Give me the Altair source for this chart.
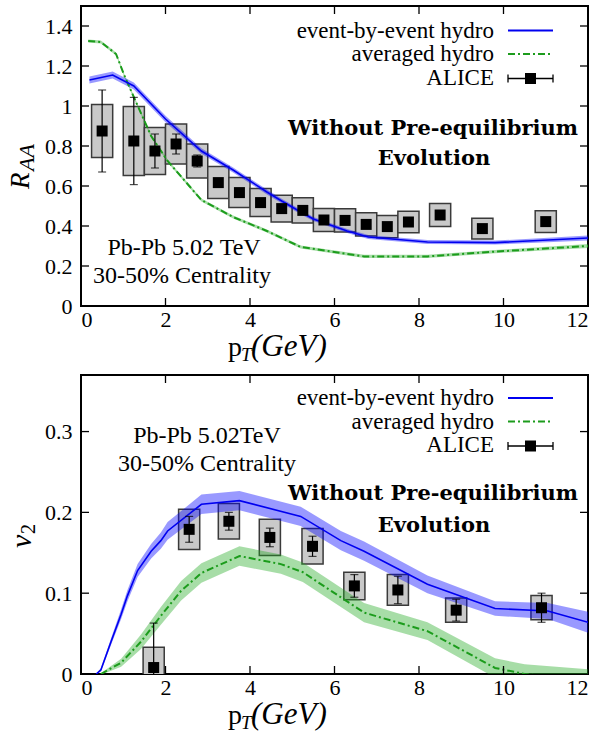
import altair as alt
import pandas as pd

# ---------------- data: R_AA panel ----------------
raa_ebe_x = [0.2, 0.75, 1.25, 2.0, 2.85, 3.6, 4.4, 4.75, 5.2, 5.5, 6.3, 6.8, 8.2, 9.8, 12.0]
raa_ebe_y = [1.13, 1.155, 1.10, 0.935, 0.775, 0.68, 0.57, 0.525, 0.47, 0.435, 0.375, 0.345, 0.32, 0.317, 0.34]
raa_ebe_e = [0.018, 0.018, 0.018, 0.016, 0.014, 0.013, 0.012, 0.011, 0.011, 0.010, 0.010, 0.010, 0.010, 0.010, 0.012]

raa_avg_x = [0.17, 0.47, 0.83, 1.04, 1.26, 1.66, 2.05, 2.85, 3.6, 4.4, 5.2, 6.7, 8.2, 9.8, 12.0]
raa_avg_y = [1.325, 1.32, 1.26, 1.145, 1.04, 0.85, 0.725, 0.53, 0.445, 0.375, 0.295, 0.248, 0.248, 0.272, 0.30]
raa_avg_e = [0.008, 0.008, 0.008, 0.008, 0.008, 0.008, 0.008, 0.008, 0.008, 0.008, 0.008, 0.008, 0.008, 0.008, 0.01]

raa_x = [0.5, 1.25, 1.75, 2.25, 2.75, 3.25, 3.75, 4.25, 4.75, 5.25, 5.75, 6.25, 6.75, 7.25, 7.75, 8.5, 9.5, 11.0]
raa_y = [0.875, 0.825, 0.775, 0.81, 0.725, 0.617, 0.567, 0.517, 0.487, 0.478, 0.43, 0.428, 0.408, 0.397, 0.42, 0.455, 0.387, 0.422]
raa_stat = [0.205, 0.218, 0.085, 0.05, 0.03, 0.015, 0.012, 0.01, 0.01, 0.01, 0.01, 0.01, 0.01, 0.01, 0.01, 0.012, 0.012, 0.015]
raa_sys = [0.133, 0.173, 0.117, 0.10, 0.085, 0.08, 0.075, 0.07, 0.067, 0.063, 0.058, 0.058, 0.058, 0.056, 0.054, 0.058, 0.052, 0.054]

# ---------------- data: v2 panel ----------------
v2_ebe_x = [0.36, 0.47, 0.71, 0.95, 1.1, 1.34, 1.66, 1.89, 2.05, 2.85, 3.75, 5.2, 6.15, 6.7, 8.2, 9.8, 11.05, 12.0]
v2_ebe_y = [0.0, 0.005, 0.04, 0.074, 0.097, 0.128, 0.152, 0.165, 0.177, 0.21, 0.2145, 0.195, 0.165, 0.152, 0.111, 0.081, 0.078, 0.064]
v2_ebe_e = [0.0, 0.002, 0.004, 0.006, 0.007, 0.008, 0.009, 0.010, 0.011, 0.012, 0.012, 0.012, 0.012, 0.012, 0.011, 0.009, 0.010, 0.013]

v2_avg_x = [0.47, 0.95, 1.42, 1.89, 2.37, 2.85, 3.75, 4.73, 5.25, 6.7, 8.2, 9.8, 10.5, 12.0]
v2_avg_y = [0.0, 0.014, 0.04, 0.072, 0.103, 0.125, 0.146, 0.136, 0.126, 0.076, 0.053, 0.0075, 0.0, -0.008]
v2_avg_e = [0.001, 0.005, 0.009, 0.011, 0.012, 0.012, 0.012, 0.012, 0.012, 0.012, 0.011, 0.012, 0.012, 0.014]

v2_x = [1.72, 2.56, 3.5, 4.47, 5.48, 6.47, 7.5, 8.88, 10.9]
v2_y = [0.008, 0.179, 0.189, 0.169, 0.158, 0.109, 0.104, 0.079, 0.082]
v2_stat = [0.055, 0.016, 0.011, 0.0115, 0.0125, 0.014, 0.017, 0.0135, 0.018]
v2_sys = [0.025, 0.025, 0.022, 0.0225, 0.022, 0.017, 0.019, 0.015, 0.015]

x_ticks = [0, 2, 4, 6, 8, 10, 12]
x_inner_ticks = [2, 4, 6, 8, 10]
raa_ticks = [0, 0.2, 0.4, 0.6, 0.8, 1, 1.2, 1.4]
raa_inner_ticks = [0.2, 0.4, 0.6, 0.8, 1, 1.2, 1.4]
v2_ticks = [0, 0.1, 0.2, 0.3]
v2_inner_ticks = [0.1, 0.2, 0.3]

legend_labels = ["event-by-event hydro", "averaged hydro", "ALICE"]

# ---------------- style ----------------
W, H1, H2 = 507, 300, 299
BIN_HALF = 0.25
SERIF = "Liberation Serif, DejaVu Serif, serif"
BOLD = "DejaVu Serif, Liberation Serif, serif"
BLUE = "#0000f0"
BAND_BLUE = "#0000ff"
GREEN = "#1c9c1c"
BAND_GREEN = "#22aa22"
BOX_FILL = "#c9c9c9"
BOX_EDGE = "#3a3a3a"
DASHDOT = [7, 3, 2, 3]


def curve_df(xs, ys, es):
    return pd.DataFrame({"x": xs, "y": ys,
                         "lo": [a - b for a, b in zip(ys, es)],
                         "hi": [a + b for a, b in zip(ys, es)]})


def alice_df(xs, ys, st, sy):
    return pd.DataFrame({
        "x": xs, "y": ys,
        "bx0": [a - BIN_HALF for a in xs], "bx1": [a + BIN_HALF for a in xs],
        "by0": [a - b for a, b in zip(ys, sy)], "by1": [a + b for a, b in zip(ys, sy)],
        "elo": [a - b for a, b in zip(ys, st)], "ehi": [a + b for a, b in zip(ys, st)],
    })


def xenc(field):
    return alt.X(f"{field}:Q", scale=alt.Scale(domain=[0, 12], nice=False, zero=False),
                 axis=alt.Axis(values=x_ticks, format="d", title=None, ticks=False, tickSize=0,
                               domain=False, grid=False, labelPadding=3))


def yenc(field, dom, vals):
    return alt.Y(f"{field}:Q", scale=alt.Scale(domain=dom, nice=False, zero=False),
                 axis=alt.Axis(values=vals, format="~g", title=None, ticks=False, tickSize=0,
                               domain=False, grid=False, labelPadding=9))


one = pd.DataFrame({"k": [0]})


def txt(s, x, y, size, font=SERIF, style="normal", weight="normal",
        align="center", baseline="middle", angle=0):
    kw = dict(font=font, fontSize=size, fontStyle=style, fontWeight=weight,
              align=align, baseline=baseline, color="black")
    if angle:
        kw["angle"] = angle
    return alt.Chart(one).mark_text(**kw).encode(
        x=alt.value(x), y=alt.value(y), text=alt.value(s))


def panel(H, dom, yvals, yinner, ebe, avg, alice, notes, leg_y, ytitle, top_pad):
    yv = lambda f: yenc(f, dom, yvals)
    layers = []
    # invisible anchors fixing the layout extent (left edge / top edge)
    layers.append(alt.Chart(one).mark_rule(opacity=0, strokeWidth=0.1)
                  .encode(x=alt.value(-80), x2=alt.value(-79), y=alt.value(-top_pad)))
    # ALICE systematic boxes
    layers.append(alt.Chart(alice).mark_rect(fill=BOX_FILL, stroke=BOX_EDGE, strokeWidth=1.5, clip=True)
                  .encode(x=xenc("bx0"), x2="bx1:Q", y=yv("by0"), y2="by1:Q"))
    # bands
    layers.append(alt.Chart(avg).mark_area(color=BAND_GREEN, opacity=0.4, clip=True)
                  .encode(x=xenc("x"), y=yv("lo"), y2="hi:Q"))
    layers.append(alt.Chart(ebe).mark_area(color=BAND_BLUE, opacity=0.4, clip=True)
                  .encode(x=xenc("x"), y=yv("lo"), y2="hi:Q"))
    # central lines
    layers.append(alt.Chart(avg).mark_line(color=GREEN, strokeWidth=2, strokeDash=DASHDOT, clip=True)
                  .encode(x=xenc("x"), y=yv("y")))
    layers.append(alt.Chart(ebe).mark_line(color=BLUE, strokeWidth=1.6, clip=True)
                  .encode(x=xenc("x"), y=yv("y")))
    # ALICE stat errors + markers
    layers.append(alt.Chart(alice).mark_rule(color="black", strokeWidth=1.2, clip=True)
                  .encode(x=xenc("x"), y=yv("elo"), y2="ehi:Q"))
    for f in ["elo", "ehi"]:
        layers.append(alt.Chart(alice).mark_tick(orient="horizontal", color="black", size=8,
                                                 thickness=1.2, clip=True)
                      .encode(x=xenc("x"), y=yv(f)))
    layers.append(alt.Chart(alice).mark_square(size=121, color="black", opacity=1)
                  .encode(x=xenc("x"), y=yv("y")))
    # inward ticks
    xt = pd.DataFrame({"t": x_inner_ticks})
    yt = pd.DataFrame({"t": yinner})
    for a, b in [(0, 8), (H, H - 8)]:
        layers.append(alt.Chart(xt).mark_rule(color="black", strokeWidth=1.3)
                      .encode(x=xenc("t"), y=alt.value(a), y2=alt.value(b)))
    for a, b in [(0, 8), (W, W - 8)]:
        layers.append(alt.Chart(yt).mark_rule(color="black", strokeWidth=1.3)
                      .encode(y=yv("t"), x=alt.value(a), x2=alt.value(b)))
    # legend
    lx_text, lx0, lx1 = 413, 427, 472
    for lab, ly in zip(legend_labels, leg_y):
        layers.append(txt(lab, lx_text, ly, 23, align="right"))
    layers.append(alt.Chart(one).mark_rule(color=BLUE, strokeWidth=2)
                  .encode(x=alt.value(lx0), x2=alt.value(lx1), y=alt.value(leg_y[0])))
    layers.append(alt.Chart(one).mark_rule(color=GREEN, strokeWidth=2, strokeDash=DASHDOT)
                  .encode(x=alt.value(lx0), x2=alt.value(lx1), y=alt.value(leg_y[1])))
    ay = leg_y[2] + 1
    layers.append(alt.Chart(one).mark_rule(color="black", strokeWidth=1.3)
                  .encode(x=alt.value(lx0), x2=alt.value(lx1), y=alt.value(ay)))
    for cx in (lx0, lx1):
        layers.append(alt.Chart(one).mark_rule(color="black", strokeWidth=1.3)
                      .encode(x=alt.value(cx), y=alt.value(ay - 4), y2=alt.value(ay + 4)))
    layers.append(alt.Chart(one).mark_square(size=121, color="black", opacity=1)
                  .encode(x=alt.value((lx0 + lx1) / 2), y=alt.value(ay)))
    # annotations
    for n in notes:
        layers.append(n)
    # x axis title: p_T(GeV)
    layers.append(txt("p", 147, H + 50, 28, align="left", baseline="alphabetic"))
    layers.append(txt("T", 160, H + 55, 19, style="italic", align="left", baseline="alphabetic"))
    layers.append(txt("(GeV)", 170, H + 50, 31, style="italic", align="left", baseline="alphabetic"))
    for t in ytitle:
        layers.append(t)
    return alt.layer(*layers).properties(width=W, height=H)


top = panel(
    H1, [0, 1.5], raa_ticks, raa_inner_ticks,
    curve_df(raa_ebe_x, raa_ebe_y, raa_ebe_e),
    curve_df(raa_avg_x, raa_avg_y, raa_avg_e),
    alice_df(raa_x, raa_y, raa_stat, raa_sys),
    [
        txt("Without Pre-equilibrium", 352, 123, 21, font=BOLD, weight="bold"),
        txt("Evolution", 353, 153, 21, font=BOLD, weight="bold"),
        txt("Pb-Pb 5.02 TeV", 103, 242, 24),
        txt("30-50% Centrality", 101, 270, 24),
    ],
    [24.5, 48, 71.5],
    [
        txt("R", -52, 183, 27, style="italic", align="left", baseline="alphabetic", angle=270),
        txt("AA", -47, 165, 22, style="italic", align="left", baseline="alphabetic", angle=270),
    ],
    5,
)

bottom = panel(
    H2, [0, 0.37], v2_ticks, v2_inner_ticks,
    curve_df(v2_ebe_x, v2_ebe_y, v2_ebe_e),
    curve_df(v2_avg_x, v2_avg_y, v2_avg_e),
    alice_df(v2_x, v2_y, v2_stat, v2_sys),
    [
        txt("Without Pre-equilibrium", 352, 119, 21, font=BOLD, weight="bold"),
        txt("Evolution", 353, 151, 21, font=BOLD, weight="bold"),
        txt("Pb-Pb 5.02TeV", 126, 61, 24),
        txt("30-50% Centrality", 126, 89, 24),
    ],
    [23, 46.5, 70],
    [
        txt("v", -50, 173, 30, style="italic", align="left", baseline="alphabetic", angle=270),
        txt("2", -46, 159, 20, align="left", baseline="alphabetic", angle=270),
    ],
    0,
)

chart = (
    alt.vconcat(top, bottom, spacing=69, bounds="flush")
    .properties(padding={"left": 0, "top": 0, "right": 0, "bottom": 0})
    .configure_view(stroke="black", strokeWidth=2)
    .configure_axis(labelFont=SERIF, labelFontSize=22, labelColor="black")
)

chart.save("out.html", embed_options={"renderer": "svg", "actions": False})
